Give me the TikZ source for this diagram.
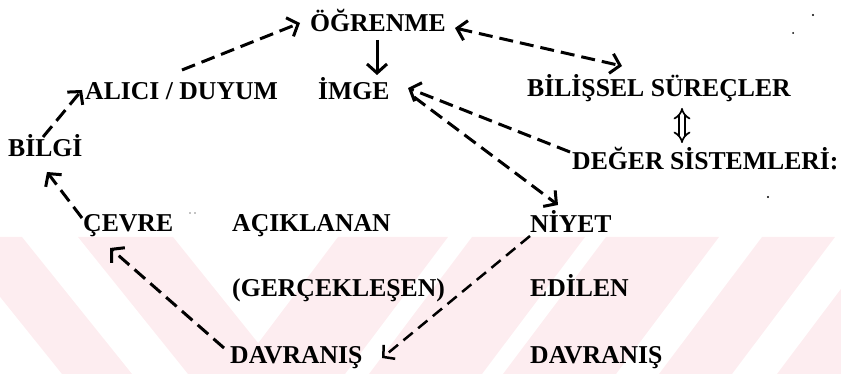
\documentclass[tikz,border=0pt]{standalone}
\usepackage{fontspec}
\newfontfamily\dfont{Liberation Serif Bold}
\usetikzlibrary{arrows.meta,calc}
\definecolor{wm}{RGB}{253,237,240}
\tikzset{
  lbl/.style={anchor=base west, inner sep=0pt, font=\dfont\fontsize{25.7}{30}\selectfont, text=black},
  darr/.style={line width=3pt, dash pattern=on 14pt off 7pt, -{Straight Barb[length=9pt,width=20pt]}},
  dbarr/.style={line width=3pt, dash pattern=on 14pt off 7pt, {Straight Barb[length=9pt,width=20pt]}-{Straight Barb[length=9pt,width=20pt]}},
  tarr/.style={line width=2.5pt, dash pattern=on 12pt off 7pt, -{Straight Barb[length=8pt,width=18pt]}},
  sarr/.style={line width=3pt, -{Straight Barb[length=9pt,width=20pt]}},
  dblarr/.style={double, double distance=4pt, line width=1.7pt, {Implies[]}-{Implies[]}},
  wmband/.style={fill=wm, draw=none},
  speck/.style={fill=black}
}
\begin{document}
\begin{tikzpicture}[x=1pt,y=-1pt]
\useasboundingbox (0,0) rectangle (841,374);
% watermark bands
\begin{scope}
\clip (0,237) rectangle (841,374);
\fill[wmband] (-48,237) -- (22,237) -- (132,374) -- (62,374) -- cycle;
\fill[wmband] (78,237) -- (173,237) -- (283,374) -- (188,374) -- cycle;
\fill[wmband] (338,237) -- (448,237) -- (345,374) -- (235,374) -- cycle;
\fill[wmband] (472,237) -- (585,237) -- (482,374) -- (369,374) -- cycle;
\fill[wmband] (606,237) -- (719,237) -- (616,374) -- (503,374) -- cycle;
\fill[wmband] (762,237) -- (835,237) -- (732,374) -- (659,374) -- cycle;
\fill[wmband] (880,237) -- (990,237) -- (887,374) -- (777,374) -- cycle;
\end{scope}
% texts
\node[lbl] (ogr) at (310,32) {ÖĞRENME};
\node[lbl] (alici) at (85,100) {ALICI / DUYUM};
\node[lbl] (imge) at (318,100) {İMGE};
\node[lbl] (bilis) at (527,97) {BİLİŞSEL SÜREÇLER};
\node[lbl] (bilgi) at (8,157) {BİLGİ};
\node[lbl] (deger) at (572,170) {DEĞER SİSTEMLERİ:};
\node[lbl] (cevre) at (83,232) {ÇEVRE};
\node[lbl] (acik) at (232,232) {AÇIKLANAN};
\node[lbl] (niyet) at (530,233) {NİYET};
\node[lbl] (gerc) at (232,297) {(GERÇEKLEŞEN)};
\node[lbl] (edilen) at (530,297) {EDİLEN};
\node[lbl] (davl) at (230,363) {DAVRANIŞ};
\node[lbl] (davr) at (530,363) {DAVRANIŞ};
% connectors
\draw[darr] ($(bilgi.base west)+(35,-20)$) -- ($(alici.base west)+(-3,-10)$);
\draw[darr] ($(alici.base west)+(97,-30)$) -- ($(ogr.base west)+(-10,-9)$);
\draw[sarr] ($(ogr.base west)+(67,8)$) -- ($(imge.base west)+(59,-25)$);
\draw[dbarr] ($(ogr.base west)+(145,-4)$) -- ($(bilis.base west)+(95,-31)$);
\draw[dblarr] ($(bilis.base west)+(155,11)$) -- ($(deger.base west)+(110,-27)$);
\draw[darr] ($(deger.base west)+(-2,-18)$) -- ($(imge.base west)+(90,-12)$);
\draw[darr] ($(imge.base west)+(96,-3)$) -- ($(niyet.base west)+(28,-28)$);
\draw[tarr] ($(niyet.base west)+(0,3)$) -- ($(davl.base west)+(152,-5)$);
\draw[darr] ($(davl.base west)+(-6,-15)$) -- ($(cevre.base west)+(27,16)$);
\draw[darr] ($(cevre.base west)+(-1,-14)$) -- ($(bilgi.base west)+(39,15)$);
% scan specks
\fill[speck] (813,15) circle (1.2);
\fill[speck] (793,33) circle (1);
\fill[speck] (768,197) circle (1.2);
\fill[speck] (190,213) circle (0.7);
\fill[speck] (195,213) circle (0.7);
\end{tikzpicture}
\end{document}
